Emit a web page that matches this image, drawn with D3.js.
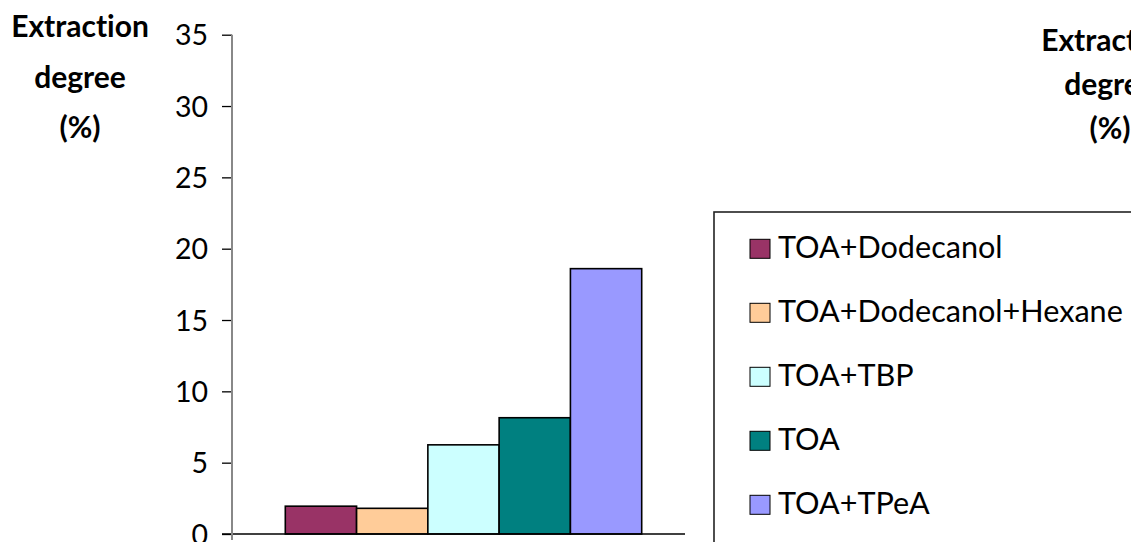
<!DOCTYPE html>
<html>
<head>
<meta charset="utf-8">
<script src="https://cdn.jsdelivr.net/npm/d3@7"></script>
<style>
  html, body { margin: 0; padding: 0; background: #fff; }
  svg { display: block; }
  text { font-variant-ligatures: none; font-feature-settings: "liga" 0; }
</style>
</head>
<body>
<svg id="chart" width="1131" height="542"></svg>
<script>
const series = ["TOA+Dodecanol", "TOA+Dodecanol+Hexane", "TOA+TBP", "TOA", "TOA+TPeA"];
const values = [1.95, 1.8, 6.25, 8.15, 18.6];
const colors = ["#993366", "#FFCC99", "#CCFFFF", "#008080", "#9999FF"];
const yTicks = [0, 5, 10, 15, 20, 25, 30, 35];
const titleLines = ["Extraction", "degree", "(%)"];

const svg = d3.select("#chart");
const font = "Lato, 'Open Sans', sans-serif";

const y = d3.scaleLinear().domain([0, 35]).range([534, 34.7]);
const x = d3.scaleBand().domain(series).range([285.3, 641.7]).padding(0);

// bars
svg.append("g").selectAll("rect").data(series).join("rect")
  .attr("x", d => x(d))
  .attr("width", x.bandwidth())
  .attr("y", (d, i) => y(values[i]))
  .attr("height", (d, i) => y(0) - y(values[i]))
  .attr("fill", (d, i) => colors[i])
  .attr("stroke", "#000")
  .attr("stroke-width", 1.6);

// baseline
svg.append("line")
  .attr("x1", 222).attr("x2", 685)
  .attr("y1", y(0)).attr("y2", y(0))
  .attr("stroke", "#000").attr("stroke-width", 1.6);

// y axis
const yAxis = d3.axisLeft(y).tickValues(yTicks).tickSize(10).tickPadding(14).tickSizeOuter(0);
const gy = svg.append("g").attr("transform", "translate(232,0)").call(yAxis);
gy.select(".domain").remove();
gy.append("line").attr("x1", 0).attr("x2", 0).attr("y1", y(35)).attr("y2", 540)
  .attr("stroke", "#888").attr("stroke-width", 2);
gy.selectAll(".tick line").attr("stroke", "#000").attr("stroke-width", 1.3);
gy.selectAll(".tick text")
  .attr("font-family", font).attr("font-size", 28.5).attr("fill", "#000")
  .attr("dy", "0.36em");

// left title
const tl = svg.append("text").attr("font-family", font).attr("font-weight", "bold")
  .attr("font-size", 30).attr("text-anchor", "middle").attr("fill", "#000");
titleLines.forEach((t, i) => {
  tl.append("tspan").attr("x", 80).attr("y", 37 + i * 50.5).text(t);
});

// right (clipped) title
const tr = svg.append("text").attr("font-family", font).attr("font-weight", "bold")
  .attr("font-size", 30).attr("text-anchor", "middle").attr("fill", "#000");
titleLines.forEach((t, i) => {
  tr.append("tspan").attr("x", 1110).attr("y", 51 + i * 44).text(t);
});

// legend
const lg = svg.append("g");
lg.append("rect").attr("x", 714).attr("y", 212).attr("width", 600).attr("height", 400)
  .attr("fill", "#fff").attr("stroke", "#222").attr("stroke-width", 1.6);
const items = lg.selectAll("g.item").data(series).join("g").attr("class", "item")
  .attr("transform", (d, i) => `translate(750,${239.3 + i * 64})`);
items.append("rect").attr("width", 20).attr("height", 19)
  .attr("fill", (d, i) => colors[i]).attr("stroke", "#000").attr("stroke-width", 1);
items.append("text").attr("x", 28).attr("y", 19)
  .attr("font-family", font).attr("font-size", 30.6).attr("fill", "#000")
  .text(d => d);
</script>
</body>
</html>
